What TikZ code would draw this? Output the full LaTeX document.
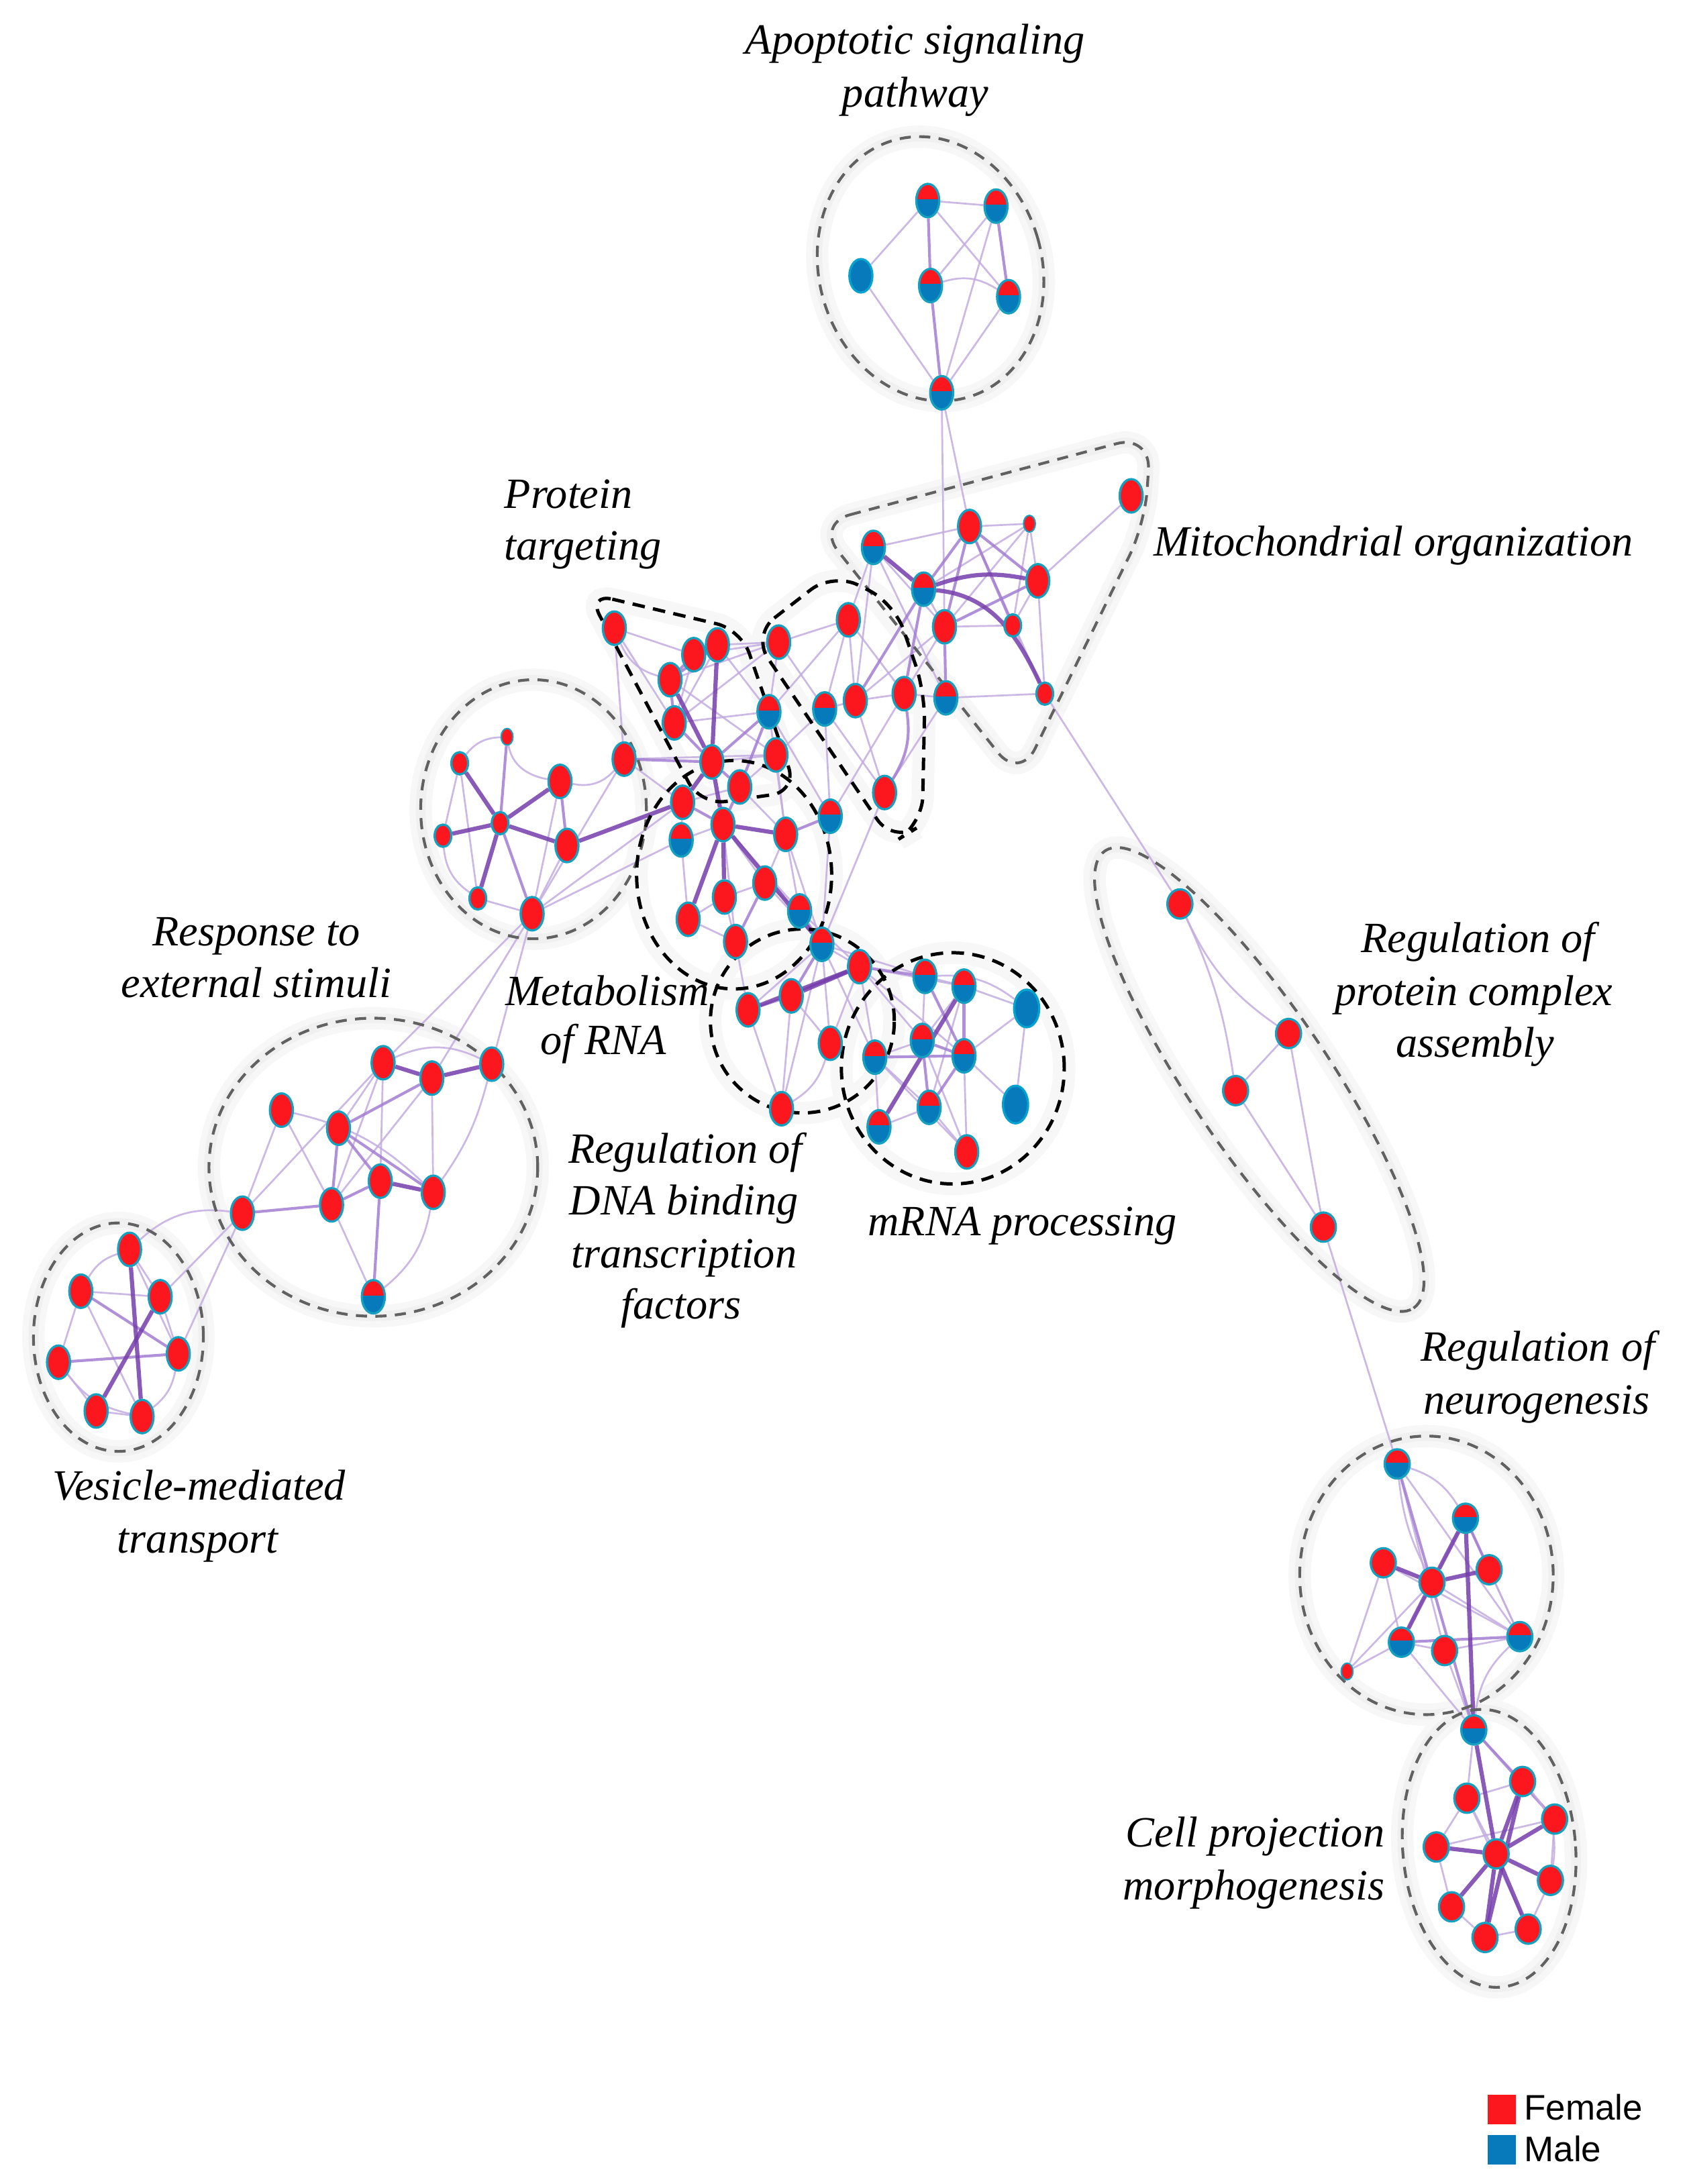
\documentclass[tikz,border=0pt]{standalone}
\usepackage{fontspec}
\setmainfont{Liberation Serif}
\newfontfamily\legfont{Liberation Sans}
\usetikzlibrary{shapes.geometric}
\pgfdeclarelayer{bgl}
\pgfdeclarelayer{glow}
\pgfdeclarelayer{edges}
\pgfdeclarelayer{outl}
\pgfsetlayers{bgl,glow,edges,outl,main}
\definecolor{nred}{RGB}{252,22,30}
\definecolor{nblue}{RGB}{6,122,186}
\definecolor{nrim}{RGB}{22,160,192}
\definecolor{elight}{RGB}{196,172,224}
\definecolor{emid}{RGB}{163,125,210}
\definecolor{edark}{RGB}{118,62,172}
\newcommand\gshape[1]{%
 \begin{pgfonlayer}{glow}\draw[glowA] #1;\draw[glowB] #1;\end{pgfonlayer}%
 \begin{pgfonlayer}{outl}\draw[gdash] #1;\end{pgfonlayer}}
\newcommand\kshape[1]{%
 \begin{pgfonlayer}{glow}\draw[glowA] #1;\end{pgfonlayer}%
 \begin{pgfonlayer}{outl}\draw[kdash] #1;\end{pgfonlayer}}
\tikzset{
 gn/.style={ellipse, inner sep=0pt, minimum width=16.5pt, minimum height=24pt, line width=1.6pt, draw=nrim},
 rn/.style={gn, fill=nred},
 bn/.style={gn, fill=nblue, draw=nblue!70!cyan},
 hn/.style={gn, fill=nblue, path picture={\fill[nred] (path picture bounding box.north west) rectangle ([yshift=1pt]path picture bounding box.east);}},
 sm/.style={minimum width=12pt, minimum height=16pt},
 xs/.style={minimum width=8.5pt, minimum height=12pt, line width=1pt},
 rd/.style={minimum width=18pt, minimum height=21pt},
 big/.style={minimum width=18pt, minimum height=27pt},
 e1/.style={draw=elight, line width=1.3pt, opacity=.85},
 e2/.style={draw=emid, line width=2pt, opacity=.85},
 e3/.style={draw=edark, line width=3pt, opacity=.85},
 gdash/.style={draw=black!62, line width=2pt, dash pattern=on 8pt off 6pt},
 kdash/.style={draw=black, line width=2.4pt, dash pattern=on 9pt off 6pt},
 glowA/.style={draw=black!3, line width=16pt},
 glowB/.style={draw=black!6, line width=7pt},
 lbl/.style={font=\fontsize{31}{37}\selectfont\itshape, inner sep=0pt, anchor=base},
 leg/.style={font=\legfont\fontsize{25.5}{30}\selectfont, inner sep=0pt, anchor=base west},
}
\begin{document}
\begin{tikzpicture}[x=1pt, y=-1pt]
\begin{pgfonlayer}{bgl}
\fill[white] (0,0) rectangle (1211,1568);
\end{pgfonlayer}
\useasboundingbox (0,0) rectangle (1211,1568);

% ---------- outlines ----------
\gshape{[rotate around={16:(668,193)}] (668,193) ellipse [x radius=80pt, y radius=96pt]}
\gshape{[rounded corners=25pt] (586,376) -- (826,312) -- (822,376) -- (732,560) -- cycle}
\gshape{(383,581) ellipse [x radius=81pt, y radius=93pt]}
\gshape{(268,838) ellipse [x radius=118pt, y radius=107pt]}
\gshape{(85,960) ellipse [x radius=61pt, y radius=82pt]}
\gshape{[rotate around={-56:(904,775)}] (904,775) ellipse [x radius=198pt, y radius=50pt]}
\gshape{(1024,1131) ellipse [x radius=91pt, y radius=100pt]}
\gshape{[rotate around={5:(1069,1327)}] (1069,1327) ellipse [x radius=62pt, y radius=100pt]}
\kshape{[rounded corners=18pt] (422,426) -- (532,452) -- (572,568) -- (503,578) -- cycle}
\kshape{[rounded corners=20pt] (540,456) -- (598,411) -- (642,433) -- (664,497) -- (662,592) -- (641,605) -- cycle}
\kshape{(527,628) ellipse [x radius=70pt, y radius=82pt]}
\kshape{(576,733) ellipse [x radius=66pt, y radius=66pt]}
\kshape{(684,767) ellipse [x radius=80pt, y radius=83pt]}

% ---------- nodes ----------
% apoptotic
\node[hn] (A1) at (666,144) {};
\node[hn] (A2) at (715,148) {};
\node[bn] (A3) at (618,198) {};
\node[hn] (A4) at (668,205) {};
\node[hn] (A5) at (724,213) {};
\node[hn] (A6) at (676,282) {};
% mitochondrial
\node[hn] (M1) at (627,393) {};
\node[rn] (M2) at (696,378) {};
\node[rn,xs] (M3) at (739,376) {};
\node[rn] (M4) at (812,356) {};
\node[hn] (M5) at (663,423) {};
\node[rn] (M6) at (745,417) {};
\node[rn] (M7) at (678,450) {};
\node[rn,sm] (M8) at (727,449) {};
\node[hn] (M9) at (679,501) {};
\node[rn,sm] (M10) at (750,498) {};
% protein targeting
\node[rn] (P1) at (441,451) {};
\node[rn] (P2) at (498,470) {};
\node[rn] (P3) at (515,463) {};
\node[rn] (P4) at (481,488) {};
\node[rn] (P5) at (484,519) {};
\node[rn] (P6) at (511,547) {};
\node[rn] (Q1) at (559,461) {};
\node[rn] (Q2) at (609,445) {};
\node[hn] (Q3) at (592,509) {};
\node[rn] (Q4) at (614,503) {};
\node[rn] (Q5) at (649,498) {};
\node[rn] (Q6) at (635,569) {};
\node[hn] (Q7) at (596,586) {};
\node[rn] (Q8) at (557,542) {};
\node[hn] (Q9) at (552,511) {};
% metabolism of RNA
\node[rn] (R1) at (531,565) {};
\node[rn] (R2) at (490,576) {};
\node[hn] (R3) at (489,603) {};
\node[rn] (R4) at (519,592) {};
\node[rn] (R5) at (564,599) {};
\node[rn] (R6) at (549,634) {};
\node[rn] (R7) at (520,644) {};
\node[hn] (R8) at (574,654) {};
\node[rn] (R9) at (494,660) {};
\node[rn] (R10) at (528,676) {};
\node[hn] (J1) at (590,678) {};
% DNA binding
\node[rn] (D1) at (617,694) {};
\node[rn] (D2) at (537,725) {};
\node[rn] (D3) at (568,715) {};
\node[rn] (D4) at (596,749) {};
\node[rn] (D5) at (561,796) {};
% mRNA processing
\node[hn] (N1) at (664,701) {};
\node[hn] (N2) at (692,708) {};
\node[bn,big] (N3) at (737,724) {};
\node[hn] (N4) at (662,747) {};
\node[hn] (N5) at (628,759) {};
\node[hn] (N6) at (692,758) {};
\node[hn] (N7) at (667,795) {};
\node[bn,big] (N8) at (729,793) {};
\node[hn] (N9) at (631,809) {};
\node[rn] (N10) at (694,827) {};
% response to external stimuli (upper circle)
\node[rn,xs] (S1) at (364,529) {};
\node[rn,sm] (S2) at (330,548) {};
\node[rn] (S3) at (402,561) {};
\node[rn] (S4) at (448,545) {};
\node[rn,sm] (S5) at (359,591) {};
\node[rn,sm] (S6) at (318,600) {};
\node[rn] (S7) at (407,607) {};
\node[rn,sm] (S8) at (343,645) {};
\node[rn] (S9) at (382,656) {};
% lower circle
\node[rn] (T1) at (275,763) {};
\node[rn] (T2) at (310,774) {};
\node[rn] (T3) at (353,764) {};
\node[rn] (T4) at (202,797) {};
\node[rn] (T5) at (243,810) {};
\node[rn] (T6) at (273,848) {};
\node[rn] (T7) at (311,856) {};
\node[rn] (T8) at (238,865) {};
\node[rn] (T9) at (174,871) {};
\node[hn] (T10) at (268,931) {};
% vesicle
\node[rn] (V1) at (93,897) {};
\node[rn] (V2) at (58,927) {};
\node[rn] (V3) at (115,931) {};
\node[rn] (V4) at (42,978) {};
\node[rn] (V5) at (128,972) {};
\node[rn] (V6) at (69,1013) {};
\node[rn] (V7) at (102,1017) {};
% protein complex assembly
\node[rn,rd] (K1) at (847,649) {};
\node[rn,rd] (K2) at (925,742) {};
\node[rn,rd] (K3) at (887,783) {};
\node[rn,rd] (K4) at (950,881) {};
% neurogenesis
\node[hn,rd] (G1) at (1003,1051) {};
\node[hn,rd] (G2) at (1052,1090) {};
\node[rn,rd] (G3) at (993,1122) {};
\node[rn,rd] (G4) at (1028,1136) {};
\node[rn,rd] (G5) at (1069,1127) {};
\node[hn,rd] (G6) at (1006,1179) {};
\node[rn,rd] (G7) at (1037,1185) {};
\node[hn,rd] (G8) at (1091,1175) {};
\node[rn,xs] (G9) at (967,1200) {};
% cell projection
\node[hn,rd] (C1) at (1058,1242) {};
\node[rn,rd] (C2) at (1093,1279) {};
\node[rn,rd] (C3) at (1053,1291) {};
\node[rn,rd] (C4) at (1116,1306) {};
\node[rn,rd] (C5) at (1031,1326) {};
\node[rn,rd] (C6) at (1074,1331) {};
\node[rn,rd] (C7) at (1113,1350) {};
\node[rn,rd] (C8) at (1042,1369) {};
\node[rn,rd] (C9) at (1066,1391) {};
\node[rn,rd] (C10) at (1097,1385) {};

% ---------- edges ----------
\begin{pgfonlayer}{edges}
\foreach \a/\b in {A1/A2,A1/A3,A1/A5,A2/A4,A3/A6,A2/A6,A5/A6,A6/M2,A6/M7,
 M1/M2,M1/M9,M1/Q4,M2/M3,M2/M10,M3/M5,M3/M7,M3/M8,M3/M6,M4/M6,M5/M7,M6/M8,M7/M8,M8/M10,M9/M10,M6/M10,M1/M7,M10/K1,M7/Q5,M9/Q5,M9/Q6,M1/Q2,M7/Q4,
 P1/P2,P1/P5,P1/S4,P2/P3,P2/Q1,P3/Q1,P3/Q9,P4/Q8,P5/Q9,P5/Q1,P6/Q8,P4/Q1,P2/P5,P3/P5,
 Q1/Q2,Q1/Q3,Q2/Q3,Q2/Q4,Q2/Q5,Q3/Q4,Q4/Q5,Q3/Q6,Q4/Q6,Q3/Q7,Q9/Q7,Q5/Q7,Q8/Q3,Q9/R5,Q8/R1,Q8/R5,Q1/Q9,Q2/Q9,Q7/J1,Q6/J1,S4/Q8,
 R1/R2,R1/R5,R2/R3,R3/R4,R4/R6,R4/R8,R4/R10,R5/R6,R5/R8,R6/R7,R6/R8,R7/R9,R7/R10,R9/R10,R6/J1,R5/J1,R3/R9,
 S2/S6,S2/S8,S3/S9,S8/S9,S7/S9,S4/S9,S9/R2,S9/R3,S4/R2,S9/T1,S9/T2,S9/T3,
 T9/T4,T9/T1,T4/T8,T1/T6,T1/T8,T2/T8,T8/T10,T5/T1,T2/T7,T9/V3,T9/V5,
 V1/V3,V2/V3,V2/V4,V3/V5,V4/V6,V6/V7,V1/V5,V2/V7,
 K2/K3,K2/K4,K3/K4,K4/G1,
 G1/G7,G1/G8,G2/G6,G3/G6,G3/G9,G6/G9,G6/G7,G4/G8,G5/G8,G7/G8,G3/G8,G7/C1,G9/G4,G2/G8,G6/C1,
 C1/C2,C1/C3,C2/C3,C3/C5,C4/C7,C5/C8,C7/C10,C8/C9,C9/C10,C3/C10,C5/C4,C3/C6,
 J1/D1,J1/D2,J1/D4,J1/N1,J1/N5,J1/D5,D2/D5,D3/D5,D3/D4,D1/N2,D1/N4,D1/N6,D1/N5,D1/D4,R10/D2,R8/D1,
 N1/N2,N1/N4,N2/N4,N2/N3,N2/N7,N3/N8,N3/N6,N4/N5,N5/N9,N5/N7,N6/N8,N7/N9,N7/N10,N6/N10,N5/N10,N4/N10}
 \draw[e1] (\a) -- (\b);
\foreach \a/\b in {A1/A4,A2/A5,A4/A6,
 M2/M5,M2/M7,M2/M8,M2/M6,M6/M7,M7/M9,M5/Q4,M5/Q5,
 P2/P4,P3/P4,P4/P5,P5/P6,P6/Q9,P6/R1,P6/S4,Q9/R1,Q7/R5,
 R1/R4,R2/R4,R6/R10,R8/J1,
 S1/S5,S3/S7,S5/S9,
 T9/T8,T5/T6,T5/T8,T5/T7,T5/T2,T8/T6,T6/T10,
 V4/V5,V2/V5,
 G2/G5,G6/G8,G1/C1,C1/C4,
 J1/D3,D1/N1,D2/D3,
 N1/N6,N2/N6,N4/N6,N5/N6,N6/N7,N4/N7}
 \draw[e2] (\a) -- (\b);
\foreach \a/\b in {M1/M5,P3/P6,P4/P6,P6/R4,P6/R2,R4/R5,R4/R7,R4/R9,R4/J1,
 S2/S5,S5/S6,S5/S3,S5/S7,S5/S8,S7/R2,
 T1/T2,T2/T3,T6/T7,V1/V7,V3/V6,
 G3/G4,G4/G5,G4/G2,G4/G6,G2/C1,
 C1/C6,C2/C6,C2/C9,C4/C6,C5/C6,C6/C7,C6/C8,C6/C9,C6/C10,
 D1/D3,D1/D2,N9/N2}
 \draw[e3] (\a) -- (\b);
% curved connectors
\draw[e1] (A4) to[bend left=25] (A5);
\draw[e3] (M5) to[bend left=15] (M6);
\draw[e3] (M5) to[out=-5,in=115] (M10);
\draw[e1] (P1) to[bend right=25] (P4);
\draw[e2] (Q5) to[bend left=20] (Q6);
\draw[e1] (S1) to[bend right=25] (S2);
\draw[e1] (S1) to[out=-80,in=170] (S3);
\draw[e1] (S6) to[bend right=25] (S8);
\draw[e1] (S4) to[bend left=30] (S3);
\draw[e1] (T4) to[bend left=15] (T7);
\draw[e1] (T1) to[bend left=25] (T3);
\draw[e1] (T3) to[bend left=10] (T7);
\draw[e1] (T7) to[bend left=20] (T10);
\draw[e1] (T9) to[bend right=25] (V1);
\draw[e1] (V1) to[bend right=20] (V2);
\draw[e1] (V4) to[bend right=20] (V7);
\draw[e1] (V5) to[bend left=20] (V7);
\draw[e1] (K1) to[bend right=15] (K2);
\draw[e1] (K1) to[bend left=8] (K3);
\draw[e1] (G1) to[bend left=20] (G2);
\draw[e1] (G1) to[bend right=10] (G4);
\draw[e1] (G8) to[bend right=20] (C1);
\draw[e1] (C2) to[bend left=25] (C7);
\draw[e1] (D4) to[bend left=20] (D5);
\draw[e1] (N1) to[bend left=20] (N3);
\end{pgfonlayer}

% ---------- labels ----------
\node[lbl] (t1a) at (657,39) {Apoptotic signaling};
\node[lbl] (t1b) at (657,77) {pathway};
\node[lbl, anchor=base west] (t2a) at (362,365) {Protein};
\node[lbl, anchor=base west] (t2b) at (362,402) {targeting};
\node[lbl, anchor=base west] (t3) at (828,399) {Mitochondrial organization};
\node[lbl] (t4a) at (184,679) {Response to};
\node[lbl] (t4b) at (184,716) {external stimuli};
\node[lbl] (t5a) at (436,722) {Metabolism};
\node[lbl] (t5b) at (433,757) {of RNA};
\node[lbl] (t6a) at (1061,684) {Regulation of};
\node[lbl] (t6b) at (1058,722) {protein complex};
\node[lbl] (t6c) at (1059,759) {assembly};
\node[lbl] (t7a) at (492,835) {Regulation of};
\node[lbl] (t7b) at (491,872) {DNA binding};
\node[lbl] (t7c) at (491,910) {transcription};
\node[lbl] (t7d) at (489,947) {factors};
\node[lbl] (t8) at (734,887) {mRNA processing};
\node[lbl] (t9a) at (143,1077) {Vesicle-mediated};
\node[lbl] (t9b) at (142,1115) {transport};
\node[lbl] (t10a) at (1104,977) {Regulation of};
\node[lbl] (t10b) at (1103,1015) {neurogenesis};
\node[lbl] (t11a) at (901,1326) {Cell projection};
\node[lbl] (t11b) at (900,1364) {morphogenesis};

% ---------- legend ----------
\node[fill=nred, minimum width=20pt, minimum height=21pt, inner sep=0pt] (legF) at (1078,1514.5) {};
\node[fill=nblue, minimum width=20pt, minimum height=21pt, inner sep=0pt] (legM) at (1078,1543.5) {};
\node[leg] (legFt) at (1094,1522) {Female};
\node[leg] (legMt) at (1094,1552) {Male};
\end{tikzpicture}
\end{document}
